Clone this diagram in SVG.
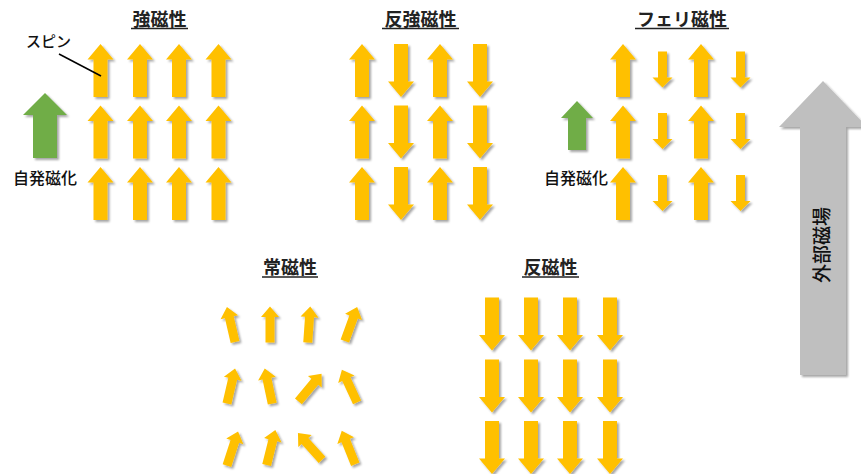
<svg xmlns="http://www.w3.org/2000/svg" xmlns:xlink="http://www.w3.org/1999/xlink" width="861" height="474" viewBox="0 0 861 474">
<style>
.title{font-family:"Noto Sans CJK JP","Noto Sans",sans-serif;font-size:18px;font-weight:bold;fill:#222;text-anchor:middle}
.lbl{font-family:"Noto Sans CJK JP","Noto Sans",sans-serif;font-size:16px;font-weight:500;fill:#111}
.ul{stroke:#222;stroke-width:1.6}
.y{fill:#FFC000}
.g{fill:#70AD47}
.gr{fill:#BFBFBF}
</style>
<defs>
<filter id="sh" x="-30%" y="-30%" width="160%" height="160%">
<feDropShadow dx="2" dy="2" stdDeviation="1.2" flood-color="#000" flood-opacity="0.35"/>
</filter>
<path id="big" d="M0,-26.5 L13,-11 L7,-11 L7,26.5 L-7,26.5 L-7,-11 L-13,-11 Z"/>
<path id="small" d="M0,-18 L10,-8 L4.5,-8 L4.5,18 L-4.5,18 L-4.5,-8 L-10,-8 Z"/>
<path id="para" d="M0,-18 L9,-7.5 L4.5,-7.5 L4.5,18 L-4.5,18 L-4.5,-7.5 L-9,-7.5 Z"/>
</defs>
<rect width="861" height="474" fill="#fff"/>

<g id="ferromagnet">
<text class="title" x="159.5" y="26">強磁性</text>
<line class="ul" x1="131" y1="28.5" x2="188" y2="28.5"/>
<g class="y" filter="url(#sh)">
<use href="#big" x="100.5" y="70.5"/><use href="#big" x="140" y="70.5"/><use href="#big" x="179" y="70.5"/><use href="#big" x="218.5" y="70.5"/>
<use href="#big" x="100.5" y="132"/><use href="#big" x="140" y="132"/><use href="#big" x="179" y="132"/><use href="#big" x="218.5" y="132"/>
<use href="#big" x="100.5" y="193.5"/><use href="#big" x="140" y="193.5"/><use href="#big" x="179" y="193.5"/><use href="#big" x="218.5" y="193.5"/>
</g>
<path class="g" filter="url(#sh)" d="M45,93 L67,115 L57,115 L57,158 L33,158 L33,115 L23,115 Z"/>
<text class="lbl" x="13" y="184">自発磁化</text>
</g>

<g id="spin-label">
<text class="lbl" x="26" y="47" style="font-size:15px">スピン</text>
<line x1="59" y1="54" x2="101" y2="76" stroke="#000" stroke-width="1.5"/>
</g>

<g id="antiferromagnet">
<text class="title" x="420.5" y="26">反強磁性</text>
<line class="ul" x1="382" y1="28.5" x2="459" y2="28.5"/>
<g class="y" filter="url(#sh)">
<use href="#big" transform="translate(362,70.5)"/><use href="#big" transform="translate(401,70.5) rotate(180)"/><use href="#big" transform="translate(440,70.5)"/><use href="#big" transform="translate(480,70.5) rotate(180)"/>
<use href="#big" transform="translate(362,132)"/><use href="#big" transform="translate(401,132) rotate(180)"/><use href="#big" transform="translate(440,132)"/><use href="#big" transform="translate(480,132) rotate(180)"/>
<use href="#big" transform="translate(362,193.5)"/><use href="#big" transform="translate(401,193.5) rotate(180)"/><use href="#big" transform="translate(440,193.5)"/><use href="#big" transform="translate(480,193.5) rotate(180)"/>
</g>
</g>

<g id="ferrimagnet">
<text class="title" x="682" y="26">フェリ磁性</text>
<line class="ul" x1="635" y1="28.5" x2="729" y2="28.5"/>
<g class="y" filter="url(#sh)">
<use href="#big" x="623" y="70.5"/><use href="#big" x="701" y="70.5"/>
<use href="#big" x="623" y="132"/><use href="#big" x="701" y="132"/>
<use href="#big" x="623" y="193.5"/><use href="#big" x="701" y="193.5"/>
<use href="#small" transform="translate(662.5,69.5) rotate(180)"/><use href="#small" transform="translate(740.5,69.5) rotate(180)"/>
<use href="#small" transform="translate(662.5,131) rotate(180)"/><use href="#small" transform="translate(740.5,131) rotate(180)"/>
<use href="#small" transform="translate(662.5,193) rotate(180)"/><use href="#small" transform="translate(740.5,193) rotate(180)"/>
</g>
<path class="g" filter="url(#sh)" d="M577,101 L593,118 L586,118 L586,150 L568,150 L568,118 L561,118 Z"/>
<text class="lbl" x="544" y="184">自発磁化</text>
</g>

<g id="paramagnet">
<text class="title" x="290" y="274">常磁性</text>
<line class="ul" x1="262" y1="277" x2="318" y2="277"/>
<g class="y" filter="url(#sh)">
<use href="#para" transform="translate(231,324.5) rotate(-13)"/>
<use href="#para" transform="translate(270,324.5)"/>
<use href="#para" transform="translate(309,324.5) rotate(4)"/>
<use href="#para" transform="translate(351,324) rotate(20)"/>
<use href="#para" transform="translate(231,386) rotate(13)"/>
<use href="#para" transform="translate(268.5,386) rotate(-12)"/>
<use href="#para" transform="translate(310,387.5) rotate(40)"/>
<use href="#para" transform="translate(349.5,386) rotate(-25)"/>
<use href="#para" transform="translate(232.5,448.5) rotate(18)"/>
<use href="#para" transform="translate(271,447.5) rotate(14)"/>
<use href="#para" transform="translate(310,446.5) rotate(-42)"/>
<use href="#para" transform="translate(348.5,447.5) rotate(-22)"/>
</g>
</g>

<g id="diamagnet">
<text class="title" x="550.5" y="274">反磁性</text>
<line class="ul" x1="522" y1="277" x2="579" y2="277"/>
<g class="y" filter="url(#sh)">
<use href="#big" transform="translate(492,324) rotate(180)"/><use href="#big" transform="translate(531,324) rotate(180)"/><use href="#big" transform="translate(570,324) rotate(180)"/><use href="#big" transform="translate(610,324) rotate(180)"/>
<use href="#big" transform="translate(492,386) rotate(180)"/><use href="#big" transform="translate(531,386) rotate(180)"/><use href="#big" transform="translate(570,386) rotate(180)"/><use href="#big" transform="translate(610,386) rotate(180)"/>
<use href="#big" transform="translate(492,447.5) rotate(180)"/><use href="#big" transform="translate(531,447.5) rotate(180)"/><use href="#big" transform="translate(570,447.5) rotate(180)"/><use href="#big" transform="translate(610,447.5) rotate(180)"/>
</g>
</g>

<g id="external-field">
<path class="gr" filter="url(#sh)" d="M823,81 L867,127 L846,127 L846,375 L800,375 L800,127 L779,127 Z"/>
<text class="lbl" transform="translate(829,245) rotate(-90)" style="font-size:19px;text-anchor:middle">外部磁場</text>
</g>
</svg>
